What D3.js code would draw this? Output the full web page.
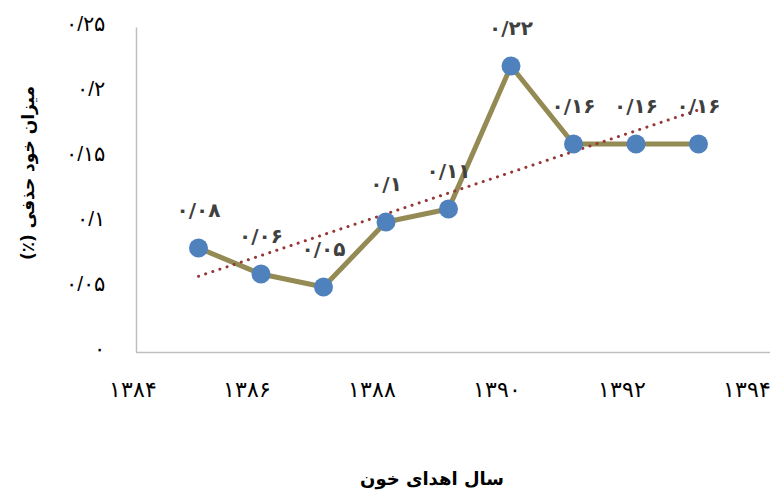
<!DOCTYPE html>
<html>
<head>
<meta charset="utf-8">
<script src="https://cdn.jsdelivr.net/npm/d3@7"></script>
<style>
  html, body { margin: 0; padding: 0; background: #fff; }
  svg { display: block; font-family: "DejaVu Sans", sans-serif; }
</style>
</head>
<body>
<svg id="chart" width="771" height="493"></svg>
<script>
// Self-deferral rate by blood-donation year
const years = [1385, 1386, 1387, 1388, 1389, 1390, 1391, 1392, 1393];
const rates = [0.08, 0.06, 0.05, 0.10, 0.11, 0.22, 0.16, 0.16, 0.16];
const xTicks = [1384, 1386, 1388, 1390, 1392, 1394];
const yTicks = [0, 0.05, 0.10, 0.15, 0.20, 0.25];
const xTitle = "سال اهدای خون";
const yTitle = "میزان خود حذفی (٪)";

const svg = d3.select("#chart");

const x = d3.scaleLinear().domain([1384, 1394]).range([136, 761]);
const y = d3.scaleLinear().domain([0, 0.25]).range([352, 27]);

// Persian digits with "/" as the decimal separator
const faDigits = "۰۱۲۳۴۵۶۷۸۹";
const toFa = s => String(s).replace(/[0-9]/g, c => faDigits[+c]).replace(".", "/");
const fmt = v => toFa(+v.toFixed(2));

// Axes
const axisColor = "#bfbfbf";
const gx = svg.append("g").attr("transform", `translate(0,${y(0)})`)
  .call(d3.axisBottom(x).tickValues(xTicks).tickSize(0).tickFormat(d => toFa(d)));
gx.select(".domain").attr("stroke", axisColor).attr("stroke-width", 1.5)
  .attr("d", `M${x(1384)},0.5H770`);
gx.selectAll("text")
  .attr("font-size", 22).attr("fill", "#000").attr("direction", "ltr")
  .attr("y", 45).attr("dy", 0)
  .attr("x", d => Math.max(x(d) - 15, 132) - x(d));

const gy = svg.append("g").attr("transform", `translate(${x(1384)},0)`)
  .call(d3.axisLeft(y).tickValues(yTicks).tickSize(0).tickFormat(d => fmt(d)));
gy.select(".domain").attr("stroke", axisColor).attr("stroke-width", 1.5);
gy.selectAll("text")
  .attr("font-size", 21).attr("fill", "#000").attr("direction", "ltr")
  .attr("x", -31).attr("dy", "0.15em");

// Linear trend (least squares over the series)
const mx = d3.mean(years), my = d3.mean(rates);
const slope = d3.sum(years, (v, i) => (v - mx) * (rates[i] - my)) /
              d3.sum(years, v => (v - mx) * (v - mx));
const trend = v => my + slope * (v - mx);
const ends = d3.extent(years);

// Series line
const pts = years.map((v, i) => [v, rates[i]]);
svg.append("path")
  .datum(pts)
  .attr("fill", "none")
  .attr("stroke", "#948a54")
  .attr("stroke-width", 5)
  .attr("stroke-linejoin", "round")
  .attr("d", d3.line().x(d => x(d[0])).y(d => y(d[1])));

// Trend line drawn as round dots
svg.append("line")
  .attr("x1", x(ends[0])).attr("y1", y(trend(ends[0])))
  .attr("x2", x(ends[1])).attr("y2", y(trend(ends[1])))
  .attr("stroke", "#953735")
  .attr("stroke-width", 3)
  .attr("stroke-linecap", "round")
  .attr("stroke-dasharray", "0.1 7.4");

// Markers
svg.append("g").selectAll("circle")
  .data(pts).join("circle")
  .attr("cx", d => x(d[0])).attr("cy", d => y(d[1]))
  .attr("r", 9.5)
  .attr("fill", "#4f81bd");

// Value labels
svg.append("g").selectAll("text")
  .data(pts).join("text")
  .attr("x", d => x(d[0]))
  .attr("y", d => y(d[1]) - 31)
  .attr("text-anchor", "middle")
  .attr("direction", "ltr")
  .attr("font-size", 20)
  .attr("font-weight", "bold")
  .attr("fill", "#404040")
  .text(d => fmt(d[1]));

// Axis titles
svg.append("text")
  .attr("x", 432).attr("y", 485)
  .attr("text-anchor", "middle")
  .attr("direction", "rtl")
  .attr("font-size", 18).attr("font-weight", "bold")
  .text(xTitle);

svg.append("text")
  .attr("transform", "translate(34,173) rotate(-90)")
  .attr("text-anchor", "middle")
  .attr("direction", "rtl")
  .attr("font-size", 17).attr("font-weight", "bold")
  .text(yTitle);
</script>
</body>
</html>
